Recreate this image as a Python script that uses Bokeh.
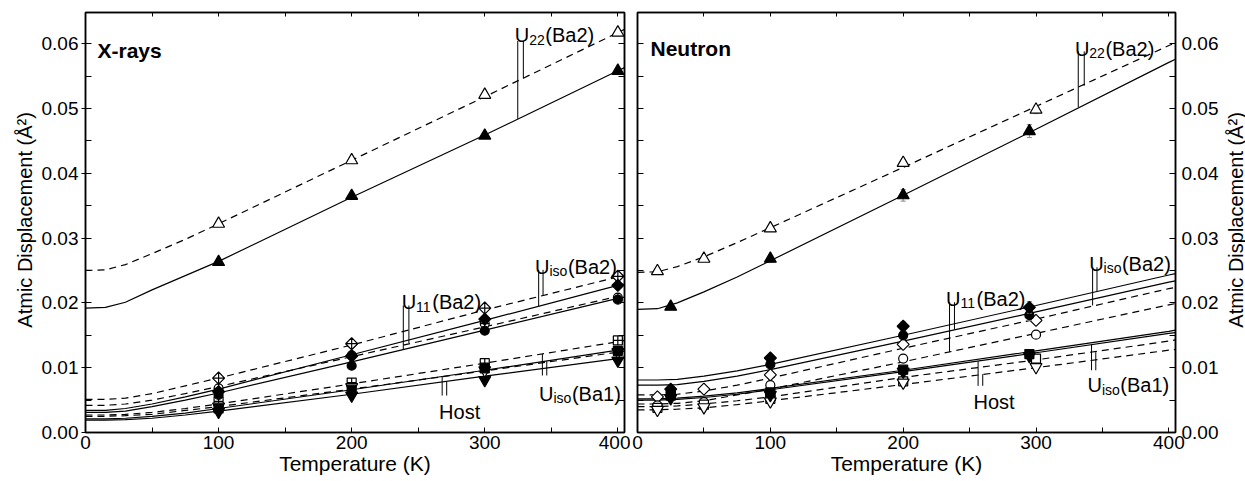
import math
from bokeh.plotting import figure
from bokeh.models import Range1d, LinearAxis, FixedTicker, PrintfTickFormatter, CustomJSTickFormatter
from bokeh.layouts import row
from bokeh.embed import file_html
from bokeh.resources import INLINE
from bokeh.core.properties import value

FONT = "Liberation Sans"

# ---------------- axes ----------------
X_TICKS = [0, 100, 200, 300, 400]
X_MINOR = [50, 150, 250, 350]
Y_TICKS = [0.00, 0.01, 0.02, 0.03, 0.04, 0.05, 0.06]
Y_MINOR = [0.005, 0.015, 0.025, 0.035, 0.045, 0.055]
X_TITLE = "Temperature (K)"
Y_TITLE = "Atmic Displacement (Å²)"

# temperatures at which the fitted curves were read
LINE_T = [0, 15, 30, 50, 75, 100, 200, 300, 400, 405]

# ---------------- X-rays panel ----------------
XR_T = [100, 200, 300, 400]
XR_O_U22 = [0.0322, 0.0420, 0.0521, 0.0617]
XR_O_ISO2 = [0.0084, 0.0137, 0.0192, 0.0241]
XR_O_U11 = [0.0068, 0.0119, 0.0168, 0.0208]
XR_O_ISO1 = [0.0048, 0.0077, 0.0107, 0.0142]
XR_O_HOST = [0.0040, 0.0070, 0.0096, 0.0124]
XR_F_U22 = [0.0263, 0.0365, 0.0458, 0.0558]
XR_F_ISO2 = [0.0063, 0.0118, 0.0175, 0.0227]
XR_F_U11 = [0.0058, 0.0103, 0.0157, 0.0205]
XR_F_ISO1 = [0.0037, 0.0066, 0.0099, 0.0126]
XR_F_HOST = [0.0032, 0.0057, 0.0081, 0.0111]

XR_FIT_O_U22 = [0.0250, 0.0251, 0.0259, 0.0276, 0.0298, 0.0322, 0.0420, 0.0518, 0.0617, 0.0622]
XR_FIT_F_U22 = [0.0192, 0.0193, 0.0201, 0.0220, 0.0242, 0.0264, 0.0363, 0.0459, 0.0558, 0.0563]
XR_FIT_O_ISO2 = [0.0051, 0.0051, 0.0053, 0.0060, 0.0072, 0.0084, 0.0135, 0.0189, 0.0240, 0.0242]
XR_FIT_O_U11 = [0.0042, 0.0042, 0.0044, 0.0050, 0.0060, 0.0071, 0.0117, 0.0163, 0.0210, 0.0212]
XR_FIT_F_ISO2 = [0.0034, 0.0034, 0.0037, 0.0044, 0.0055, 0.0067, 0.0120, 0.0173, 0.0227, 0.0229]
XR_FIT_F_U11 = [0.0031, 0.0031, 0.0033, 0.0040, 0.0050, 0.0061, 0.0109, 0.0158, 0.0207, 0.0209]
XR_FIT_O_ISO1 = [0.0027, 0.0027, 0.0028, 0.0031, 0.0037, 0.0044, 0.0075, 0.0107, 0.0140, 0.0142]
XR_FIT_O_HOST = [0.0025, 0.0025, 0.0026, 0.0028, 0.0034, 0.0040, 0.0067, 0.0095, 0.0124, 0.0125]
XR_FIT_F_ISO1 = [0.0021, 0.0021, 0.0022, 0.0025, 0.0030, 0.0037, 0.0066, 0.0096, 0.0127, 0.0128]
XR_FIT_F_HOST = [0.0019, 0.0019, 0.0020, 0.0022, 0.0027, 0.0033, 0.0059, 0.0087, 0.0114, 0.0115]

# ---------------- Neutron panel ----------------
NE_T_O = [15, 50, 100, 200, 300]
NE_T_F = [25, 100, 200, 295]
NE_O_U22 = [0.0249, 0.0268, 0.0315, 0.0416, 0.0498]
NE_O_ISO2 = [0.0055, 0.0067, 0.0089, 0.0136, 0.0173]
NE_O_U11 = [0.0042, 0.0047, 0.0073, 0.0114, 0.0151]
NE_O_ISO1 = [0.0038, 0.0043, 0.0052, 0.0079, 0.0114]
NE_O_HOST = [0.0035, 0.0039, 0.0048, 0.0077, 0.0101]
NE_F_U22 = [0.0194, 0.0268, 0.0366, 0.0465]
NE_F_ISO2 = [0.0067, 0.0115, 0.0164, 0.0193]
NE_F_U11 = [0.0062, 0.0105, 0.0150, 0.0181]
NE_F_ISO1 = [0.0057, 0.0062, 0.0097, 0.0121]
NE_F_HOST = [0.0053, 0.0058, 0.0094, 0.0118]

NE_O_U22_ERR = [0.0003, 0.0003, 0.0004, 0.0005, 0.0006]
NE_O_ERR = [0.0002, 0.0002, 0.0002, 0.0003, 0.0003]
NE_F_U22_ERR = [0.0003, 0.0005, 0.0009, 0.0010]
NE_F_ISO2_ERR = [0.0002, 0.0005, 0.0007, 0.0009]
NE_F_U11_ERR = [0.0002, 0.0004, 0.0006, 0.0008]
NE_F_ERR = [0.0001, 0.0002, 0.0003, 0.0004]

NE_FIT_O_U22 = [0.0247, 0.0248, 0.0256, 0.0271, 0.0293, 0.0316, 0.0409, 0.0503, 0.0597, 0.0601]
NE_FIT_F_U22 = [0.0190, 0.0191, 0.0200, 0.0217, 0.0240, 0.0265, 0.0366, 0.0468, 0.0571, 0.0576]
NE_FIT_F_ISO2 = [0.0081, 0.0081, 0.0082, 0.0087, 0.0095, 0.0105, 0.0150, 0.0196, 0.0243, 0.0245]
NE_FIT_F_U11 = [0.0073, 0.0073, 0.0074, 0.0079, 0.0087, 0.0097, 0.0141, 0.0186, 0.0232, 0.0234]
NE_FIT_O_ISO2 = [0.0058, 0.0058, 0.0059, 0.0064, 0.0073, 0.0084, 0.0130, 0.0175, 0.0222, 0.0224]
NE_FIT_O_U11 = [0.0044, 0.0044, 0.0045, 0.0049, 0.0058, 0.0067, 0.0109, 0.0153, 0.0197, 0.0199]
NE_FIT_F_ISO1 = [0.0052, 0.0052, 0.0053, 0.0056, 0.0061, 0.0068, 0.0096, 0.0126, 0.0156, 0.0158]
NE_FIT_F_HOST = [0.0050, 0.0050, 0.0051, 0.0054, 0.0059, 0.0066, 0.0094, 0.0123, 0.0153, 0.0154]
NE_FIT_O_ISO1 = [0.0040, 0.0040, 0.0041, 0.0044, 0.0049, 0.0055, 0.0085, 0.0112, 0.0141, 0.0143]
NE_FIT_O_HOST = [0.0035, 0.0035, 0.0036, 0.0038, 0.0043, 0.0049, 0.0074, 0.0100, 0.0127, 0.0128]

# ---------------- geometry helpers ----------------
FRAME_H = 420
FIG_H = 480
Y_MAX = 0.0648
X_MAX = 405
KX = 1.33                 # px per K
KY = FRAME_H / Y_MAX      # px per unit

PI4 = math.pi / 4
MARK = {
    "U22": ("triangle", 12, 0),
    "ISO2": ("square", 8.5, PI4),
    "U11": ("circle", 9, 0),
    "ISO1": ("square", 9, 0),
    "HOST": ("inverted_triangle", 12, 0),
}
MARK_XR_OPEN = {
    "U22": ("triangle", 12, 0),
    "ISO2": ("square_x", 8.5, PI4),
    "U11": ("circle_cross", 9, 0),
    "ISO1": ("square_cross", 9, 0),
    "HOST": ("inverted_triangle", 12, 0),
}


def hidden_axis():
    return LinearAxis(
        major_label_text_font_size="1px", major_label_standoff=0,
        formatter=CustomJSTickFormatter(code="return ''"),
        axis_line_width=1.5, major_tick_out=0, minor_tick_out=0,
    )


def make_fig(frame_w, border_l, border_r, yloc):
    p = figure(frame_width=frame_w, frame_height=FRAME_H,
               x_range=Range1d(0, X_MAX), y_range=Range1d(0, Y_MAX),
               output_backend="svg", toolbar_location=None,
               min_border_left=border_l, min_border_right=border_r,
               min_border_top=12, min_border_bottom=FIG_H - FRAME_H - 12,
               y_axis_location=yloc)
    p.xgrid.visible = False
    p.ygrid.visible = False
    p.outline_line_color = "black"
    p.outline_line_width = 1.5
    p.background_fill_color = "white"
    p.border_fill_color = "white"

    xa = p.xaxis[0]
    xa.ticker = FixedTicker(ticks=X_TICKS, minor_ticks=X_MINOR)
    xa.major_tick_in = 5
    xa.major_tick_out = 0
    xa.minor_tick_in = 5
    xa.minor_tick_out = 0
    xa.major_label_standoff = 3
    xa.axis_label = X_TITLE
    xa.axis_label_standoff = 0
    xa.axis_label_text_font_size = "21px"
    ya = p.yaxis[0]
    ya.ticker = FixedTicker(ticks=Y_TICKS, minor_ticks=Y_MINOR)
    ya.formatter = PrintfTickFormatter(format="%.2f")
    ya.major_tick_in = 6
    ya.minor_tick_in = 6
    ya.minor_tick_out = 0
    if yloc == "left":
        ya.major_tick_out = 4
        ya.major_label_standoff = 3
    else:
        ya.major_tick_out = 0
        ya.major_label_standoff = 6
    for ax in (xa, ya):
        ax.axis_line_width = 1.5
        ax.axis_line_color = "black"
        ax.major_tick_line_color = "black"
        ax.minor_tick_line_color = "black"
        ax.major_label_text_font = FONT
        ax.major_label_text_font_size = "19px"
        ax.major_label_text_color = "black"
        ax.axis_label_text_font = FONT
        ax.axis_label_text_font_style = "normal"
        ax.axis_label_text_color = "black"

    top = hidden_axis()
    top.ticker = FixedTicker(ticks=X_TICKS + X_MINOR)
    top.major_tick_in = 4
    p.add_layout(top, "above")
    side = hidden_axis()
    side.ticker = FixedTicker(ticks=Y_TICKS + Y_MINOR)
    side.major_tick_in = 6
    p.add_layout(side, "right" if yloc == "left" else "left")
    return p


def title_strip(width, x_center, y_center_from_top):
    f = figure(width=width, height=FIG_H, x_range=Range1d(0, width),
               y_range=Range1d(0, FIG_H), x_axis_type=None, y_axis_type=None,
               output_backend="svg", toolbar_location=None, min_border=0)
    f.outline_line_color = None
    f.background_fill_color = "white"
    f.border_fill_color = "white"
    f.text(x=[x_center], y=[FIG_H - y_center_from_top], text=[Y_TITLE],
           angle=math.pi / 2, text_font=value(FONT), text_font_size=value("20px"),
           text_color="black", text_align="center", text_baseline="middle")
    return f


def fit_line(p, vals, dashed):
    p.line(LINE_T, vals, line_color="black", line_width=1.2,
           line_dash="7 5" if dashed else "solid")


def points(p, T, vals, spec, filled, err=None):
    marker, size, ang = spec
    if err is not None:
        lo = [v - e for v, e in zip(vals, err)]
        hi = [v + e for v, e in zip(vals, err)]
        p.segment(x0=T, y0=lo, x1=T, y1=hi, line_color="#888888", line_width=1)
        p.scatter(T, lo, marker="dash", size=5, line_color="#888888")
        p.scatter(T, hi, marker="dash", size=5, line_color="#888888")
    p.scatter(T, vals, marker=marker, size=size, angle=ang,
              fill_color="black" if filled else "white",
              line_color="black", line_width=1.2)


def txt(p, x, y, s, size, bold=False):
    p.text(x=[x], y=[y], text=[s], text_font=value(FONT),
           text_font_size=value(size), text_color="black",
           text_font_style="bold" if bold else "normal",
           text_align="left", text_baseline="alphabetic")


SUB_W = {"22": 15.6, "11": 15.6, "iso": 17.9}


def ulabel(p, x, y, sub, tail):
    txt(p, x, y, "U", "20px")
    xs = x + 14.4 / KX
    txt(p, xs, y - 4.5 / KY, sub, "14px")
    txt(p, xs + (SUB_W[sub] + 0.5) / KX, y, tail, "20px")


def leaders(p, items, color="black"):
    for (x, y0, y1) in items:
        p.segment(x0=[x], y0=[y0], x1=[x], y1=[y1], line_color=color, line_width=1)


# ================= left title strip =================
p0 = title_strip(38, 24.5, 237)

# ================= left: X-rays =================
p1 = make_fig(539, 46, 6, "left")
for vals, dashed in [(XR_FIT_O_U22, True), (XR_FIT_F_U22, False),
                     (XR_FIT_O_ISO2, True), (XR_FIT_O_U11, True),
                     (XR_FIT_F_ISO2, False), (XR_FIT_F_U11, False),
                     (XR_FIT_O_ISO1, True), (XR_FIT_O_HOST, True),
                     (XR_FIT_F_ISO1, False), (XR_FIT_F_HOST, False)]:
    fit_line(p1, vals, dashed)

leaders(p1, [(324.8, 0.0604, 0.0484), (329.0, 0.0604, 0.0546),
             (340.5, 0.0251, 0.0195), (343.8, 0.0251, 0.0211),
             (238.8, 0.0196, 0.0128), (243.0, 0.0196, 0.0138),
             (268.0, 0.0057, 0.0086), (271.4, 0.0057, 0.0078),
             (343.3, 0.0088, 0.0121), (346.6, 0.0088, 0.0110)])

for key, vals in [("U22", XR_O_U22), ("ISO2", XR_O_ISO2), ("U11", XR_O_U11),
                  ("ISO1", XR_O_ISO1), ("HOST", XR_O_HOST)]:
    points(p1, XR_T, vals, MARK_XR_OPEN[key], False)
for key, vals in [("U22", XR_F_U22), ("ISO2", XR_F_ISO2), ("U11", XR_F_U11),
                  ("ISO1", XR_F_ISO1), ("HOST", XR_F_HOST)]:
    points(p1, XR_T, vals, MARK[key], True)

txt(p1, 9, 0.0589, "X-rays", "21px", bold=True)
ulabel(p1, 322.6, 0.0613, "22", "(Ba2)")
ulabel(p1, 337.8, 0.0256, "iso", "(Ba2)")
ulabel(p1, 237.6, 0.0201, "11", "(Ba2)")
txt(p1, 265.7, 0.0031, "Host", "20px")
ulabel(p1, 340.8, 0.0060, "iso", "(Ba1)")

# ================= right: Neutron =================
p2 = make_fig(538, 7, 45, "right")
for vals, dashed in [(NE_FIT_O_U22, True), (NE_FIT_F_U22, False),
                     (NE_FIT_F_ISO2, False), (NE_FIT_F_U11, False),
                     (NE_FIT_O_ISO2, True), (NE_FIT_O_U11, True),
                     (NE_FIT_F_ISO1, False), (NE_FIT_F_HOST, False),
                     (NE_FIT_O_ISO1, True), (NE_FIT_O_HOST, True)]:
    fit_line(p2, vals, dashed)

leaders(p2, [(331.8, 0.0588, 0.0502), (336.3, 0.0588, 0.0535),
             (342.6, 0.0255, 0.0196), (345.9, 0.0255, 0.0218),
             (234.9, 0.0201, 0.0124), (238.6, 0.0201, 0.0159),
             (256.4, 0.0072, 0.0110), (259.9, 0.0072, 0.0090),
             (341.8, 0.0096, 0.0135), (345.0, 0.0096, 0.0124)])

for key, vals, err in [("U22", NE_O_U22, NE_O_U22_ERR), ("ISO2", NE_O_ISO2, NE_O_ERR),
                       ("U11", NE_O_U11, NE_O_ERR), ("ISO1", NE_O_ISO1, NE_O_ERR),
                       ("HOST", NE_O_HOST, NE_O_ERR)]:
    points(p2, NE_T_O, vals, MARK[key], False, err)
for key, vals, err in [("HOST", NE_F_HOST, NE_F_ERR), ("ISO1", NE_F_ISO1, NE_F_ERR),
                       ("U11", NE_F_U11, NE_F_U11_ERR), ("ISO2", NE_F_ISO2, NE_F_ISO2_ERR),
                       ("U22", NE_F_U22, NE_F_U22_ERR)]:
    points(p2, NE_T_F, vals, MARK[key], True, err)

txt(p2, 9.8, 0.0593, "Neutron", "21px", bold=True)
ulabel(p2, 329.3, 0.0592, "22", "(Ba2)")
ulabel(p2, 340.0, 0.0260, "iso", "(Ba2)")
ulabel(p2, 232.3, 0.0206, "11", "(Ba2)")
txt(p2, 252.9, 0.0047, "Host", "20px")
ulabel(p2, 338.8, 0.0073, "iso", "(Ba1)")

# ================= right title strip =================
p3 = title_strip(25, 14.5, 237)

layout = row(p0, p1, p2, p3)
open("out.html", "w").write(file_html(layout, INLINE))
